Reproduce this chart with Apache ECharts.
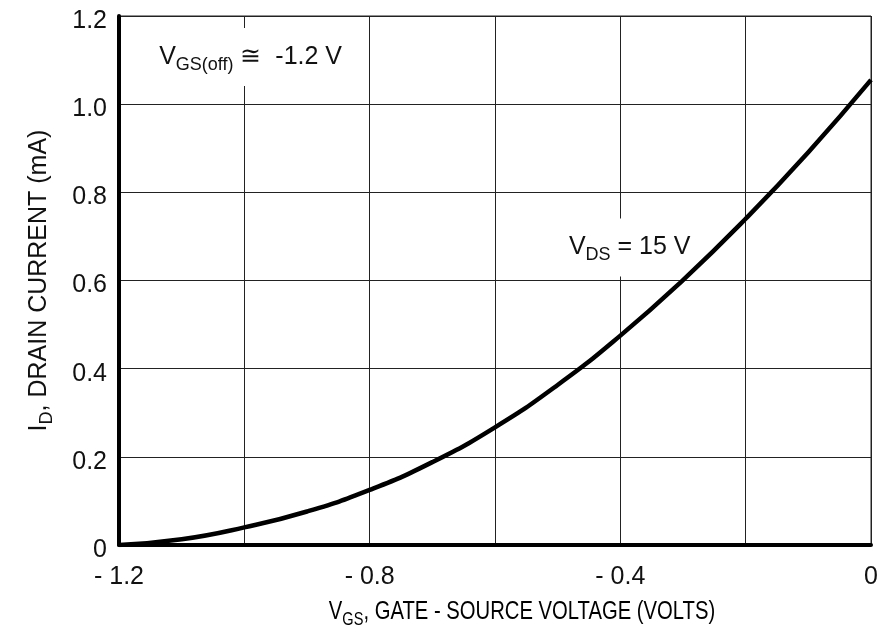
<!DOCTYPE html>
<html>
<head>
<meta charset="utf-8">
<script src="https://cdn.jsdelivr.net/npm/echarts@6/dist/echarts.min.js"></script>
<style>
  html, body { margin: 0; padding: 0; background: #fff; }
  #chart { width: 881px; height: 631px; }
</style>
</head>
<body>
<div id="chart"></div>
<script>
// Drain current vs gate-source voltage, VDS = 15 V
const vgs = [-1.2, -1.1, -1.0, -0.9, -0.8, -0.7, -0.6, -0.5, -0.4, -0.3, -0.2, -0.1, 0];
const idmA = [0, 0.013, 0.04, 0.076, 0.125, 0.188, 0.267, 0.363, 0.475, 0.601, 0.74, 0.891, 1.055];

const xTickValues = [-1.2, -0.8, -0.4, 0];
const xTickLabels = ['- 1.2', '- 0.8', '- 0.4', '0'];
const yTickValues = [0, 0.2, 0.4, 0.6, 0.8, 1.0, 1.2];
const yTickLabels = ['0', '0.2', '0.4', '0.6', '0.8', '1.0', '1.2'];

const FONT = '"Liberation Sans", Arial, sans-serif';
const INK = '#111';
const GRIDC = '#222';

const richText = {
  v: { fontSize: 25, fontFamily: FONT, color: INK, lineHeight: 34, verticalAlign: 'middle' },
  sub: { fontSize: 18, fontFamily: FONT, color: INK, lineHeight: 34, verticalAlign: 'bottom' }
};

function labelFor(values, labels, v) {
  for (let i = 0; i < values.length; i++) {
    if (Math.abs(values[i] - v) < 1e-6) return labels[i];
  }
  return '';
}

const chart = echarts.init(document.getElementById('chart'), null, { renderer: 'canvas' });

chart.setOption({
  animation: false,
  backgroundColor: '#fff',
  grid: { left: 119, right: 10, top: 16, bottom: 86, show: true, borderColor: GRIDC, borderWidth: 1 },
  // condensed x-axis title, drawn as a scaled text element
  graphic: [{
    type: 'text',
    x: 522,
    y: 612,
    scaleX: 0.81,
    style: {
      text: '{v|V}{sub|GS}{v|, GATE - SOURCE VOLTAGE (VOLTS)}',
      rich: richText,
      align: 'center',
      verticalAlign: 'middle'
    }
  }],
  xAxis: {
    type: 'value',
    min: -1.2, max: 0, interval: 0.2,
    axisLine: { show: true, onZero: false, lineStyle: { color: '#000', width: 4, cap: 'round' } },
    axisTick: { show: false },
    splitLine: { show: true, lineStyle: { color: GRIDC, width: 1 } },
    axisLabel: {
      margin: 20,
      fontSize: 25, fontFamily: FONT, color: INK,
      formatter: v => labelFor(xTickValues, xTickLabels, v)
    }
  },
  yAxis: {
    type: 'value',
    min: 0, max: 1.2, interval: 0.2,
    name: '{v|I}{sub|D}{v|, DRAIN CURRENT (mA)}',
    nameLocation: 'middle',
    nameGap: 63,
    nameRotate: 90,
    nameTextStyle: { rich: richText },
    axisLine: { show: true, onZero: false, lineStyle: { color: '#000', width: 4, cap: 'round' } },
    axisTick: { show: false },
    splitLine: { show: true, lineStyle: { color: GRIDC, width: 1 } },
    axisLabel: {
      margin: 12,
      formatter: v => '{t|' + labelFor(yTickValues, yTickLabels, v) + '}',
      rich: {
        t: { fontSize: 25, fontFamily: FONT, color: INK, padding: [10, 0, 0, 0] }
      }
    }
  },
  series: [{
    type: 'line',
    data: vgs.map((x, i) => [x, idmA[i]]),
    smooth: true,
    showSymbol: false,
    lineStyle: { color: '#000', width: 4.5 },
    z: 5,
    markPoint: {
      symbol: 'circle',
      symbolSize: 0,
      silent: true,
      label: {
        show: true,
        position: 'inside',
        backgroundColor: '#fff',
        rich: richText
      },
      data: [
        {
          coord: [-0.99, 1.107],
          label: { formatter: '{v|V}{sub|GS(off)}{v| ≅  -1.2 V}', padding: [12, 8, 12, 8] }
        },
        {
          coord: [-0.385, 0.675],
          label: { formatter: '{v|V}{sub|DS}{v| = 15 V}', padding: [12, 8, 12, 8] }
        }
      ]
    }
  }]
});
</script>
</body>
</html>
